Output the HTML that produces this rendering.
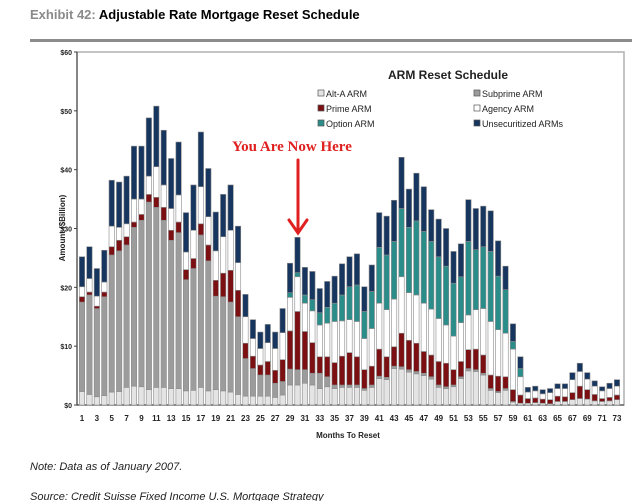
<!DOCTYPE html>
<html><head><meta charset="utf-8"><style>
body{margin:0;background:#fff;font-family:"Liberation Sans",Arial,sans-serif;}
#wrap{position:relative;width:639px;height:501px;overflow:hidden;background:#fff}
</style></head><body>
<div id="wrap">
<div style="position:absolute;left:30px;top:7px;font-size:13px;font-weight:bold;color:#000"><span style="color:#8a8a8a">Exhibit 42:</span> Adjustable Rate Mortgage Reset Schedule</div>
<div style="position:absolute;left:30px;top:39px;width:602px;height:3px;background:#8c8c8c"></div>
<svg id="chart" width="639" height="501" style="position:absolute;left:0;top:0" font-family="Liberation Sans, Arial, sans-serif"></svg>
<div style="position:absolute;left:30px;top:461px;font-size:11px;font-style:italic;color:#222">Note: Data as of January 2007.</div>
<div style="position:absolute;left:30px;top:491px;font-size:11px;font-style:italic;color:#222">Source: Credit Suisse Fixed Income U.S. Mortgage Strategy</div>
</div>
<script>
const months=[];for(let i=1;i<=73;i++)months.push(i);
const altA=[2.3,1.8,1.4,1.6,2.2,2.3,3.0,3.2,3.1,2.6,3,3,2.8,2.8,2.4,2.5,3,2.4,2.6,2.4,2.2,1.8,1.5,1.5,1.5,1.5,1.3,1.7,3.4,3.4,3.7,3.4,2.8,3.1,2.8,3,3,3,2.5,3,4.5,4.3,6.2,6.1,5.6,5.3,5,4.4,3,2.8,3.1,4.5,5.8,5.7,5.1,2.5,2.1,2.5,0.5,0.3,0.3,0.4,0.3,0.2,0.6,0.6,0.9,1.1,1,0.7,0.6,0.7,0.9];
const subprime=[15.2,16.9,15,16.8,23.3,23.9,24.2,27,28.3,31.9,30.6,28.4,25.2,26.5,18.9,20.7,25.9,22.1,15.9,16,15.3,13.2,6.4,4.7,3.6,3.6,2.4,2.3,2.7,2.6,2.3,2,2.6,1.7,0.6,0.4,0.4,0.4,0.3,0.4,0.4,0.4,0.4,0.4,0.4,0.4,0.4,0.4,0.4,0.3,0.3,0.3,0.4,0.3,0.3,0.3,0.2,0.3,0.1,0,0,0,0,0,0,0,0,0,0,0,0,0,0];
const prime=[0.9,0.5,0.4,0.8,1.4,1.8,1.4,0.9,1,1.3,1.7,2.2,1.7,1.8,1.7,1.7,1.9,2.7,2.7,4,5.4,4.5,2.6,2.1,1.7,2.3,2.2,3.7,6.5,9.9,6.5,5.2,2.8,3.4,3.8,4.9,5.5,4.8,3.2,3.2,4.6,3.5,3.3,5.7,5,4.8,3.7,3.7,4,4,2.6,2.6,3.2,3.5,3.1,2.3,2.6,2,2,1.4,0.8,0.8,0.7,0.7,0.9,0.8,1.2,2.1,1.6,1.1,0.5,0.6,0.8];
const agency=[1.7,2.3,1.7,1.7,3.5,2.2,2.2,3.9,2.6,3.1,5.2,3.8,3.7,4.6,3,4.8,6.3,4.8,5,6.2,6.8,4.7,4.5,3,2.8,3.2,3.7,4.6,5.7,5.9,4.8,5.4,5.4,5.7,7,6,5.6,6,5.3,6.4,7.8,8,8.1,9.6,8.1,8.2,8.2,7.8,7.3,6.5,5.7,6.6,5.9,6.7,7.9,9.1,7.9,7.4,6.9,3.1,1.1,1.2,0.9,1.2,1.3,1.4,2.2,2.5,1.8,1.4,1.3,1.5,1.5];
const optionArm=[0,0,0,0,0,0,0,0,0,0,0,0,0,0,0,0,0,0,0,0,0,0,0,0,0,0,0,0,0.8,0.7,1.4,1.9,2.1,2.7,3.1,4.4,5.6,6.2,4.6,6.3,9.5,9.3,9.8,11.6,11.1,12.6,12.2,11.5,10.5,10,9,7.8,12.5,10.2,10.5,11.9,9.1,7.4,1.3,1.4,0,0,0,0,0,0,0,0,0,0,0,0,0];
const unsec=[5.1,5.4,4.7,5.4,7.8,7.7,8.1,9,9,9.9,10.3,9.3,8.5,9,6.7,7.7,9.3,8.2,6.6,7.2,7.7,6.2,3.8,3.2,2.8,3.1,2.8,4.1,5,6,4.7,4.8,4.1,4.4,4.6,5.3,5.1,5.3,4.2,4.5,5.9,6.6,7,8.7,6.5,8.1,7.6,5.4,6.4,6.4,5.4,5.6,7.1,7,6.9,6.9,6,4,3,2,0.8,0.8,0.7,0.7,0.8,0.8,1.2,1.4,1.1,0.9,0.7,0.9,1.1];
const yTicks=[0,10,20,30,40,50,60];
const seriesNames=["Alt-A ARM","Subprime ARM","Prime ARM","Agency ARM","Option ARM","Unsecuritized ARMs"];

const NS="http://www.w3.org/2000/svg";
const svg=document.getElementById('chart');
const X0=77,X1=624,Y0=405,Y1=52;
const step=(617-82)/72;
function x(i){return 82+(i-1)*step;}
function y(v){return Y0-(v/60)*(Y0-Y1);}
function mk(t,a,p){const e=document.createElementNS(NS,t);for(const k in a)e.setAttribute(k,a[k]);(p||svg).appendChild(e);return e;}
const colors=["#e4e4e4","#9c9c9c","#7b0f12","#ffffff","#2b8d8a","#17365f"];
const series=[altA,subprime,prime,agency,optionArm,unsec];
const keys=["alt-a","subprime","prime","agency","option","unsecuritized"];

const fr=mk('rect',{x:X0,y:Y1,width:X1-X0,height:Y0-Y1,fill:'none',stroke:'#b0b0b0','stroke-width':1.5});


yTicks.forEach(t=>{
  const tx=mk('text',{x:X0-5,y:y(t)+3,'text-anchor':'end','font-size':7,'font-weight':'bold',fill:'#222'});
  tx.textContent='$'+t;
  
  
  const tk=mk('line',{x1:X0-3,x2:X0,y1:y(t),y2:y(t),stroke:'#444','stroke-width':1});
  
  
});
const ax=mk('line',{x1:X0,x2:X0,y1:Y1,y2:Y0,stroke:'#333','stroke-width':1});


const axx=mk('line',{x1:X0,x2:X1,y1:Y0,y2:Y0,stroke:'#333','stroke-width':1});



const bw=5.4;
months.forEach((m,i)=>{
  let acc=0;
  series.forEach((s,k)=>{
    const v=s[i];if(!v)return;
    const r=mk('rect',{x:x(m)-bw/2,y:y(acc+v),width:bw,height:y(acc)-y(acc+v),fill:colors[k],stroke:'#8a8a8a','stroke-width':0.6});
    
    
    acc+=v;
  });
  if(m%2===1){
    const t=mk('text',{x:x(m),y:421,'text-anchor':'middle','font-size':8,'font-weight':'bold',fill:'#222'});
    t.textContent=m;
    
    
  }
});
const xt=mk('text',{x:348,y:438,'text-anchor':'middle','font-size':8,'font-weight':'bold',fill:'#222'});
xt.textContent='Months To Reset';


const yt=mk('text',{x:0,y:0,'text-anchor':'middle','font-size':8,'font-weight':'bold',fill:'#222',transform:'translate(65,228) rotate(-90)'});
yt.textContent='Amount ($Billion)';



const lt=mk('text',{x:448,y:79,'text-anchor':'middle','font-size':12,'font-weight':'bold',fill:'#222'});
lt.textContent='ARM Reset Schedule';


const legPos=[[318,97],[474,97],[318,112],[474,112],[318,127],[474,127]];
seriesNames.forEach((n,k)=>{
  const g=mk('g',{});
  
  
  mk('rect',{x:legPos[k][0],y:legPos[k][1]-7,width:6,height:6,fill:colors[k],stroke:'#555','stroke-width':0.7},g);
  const t=mk('text',{x:legPos[k][0]+8,y:legPos[k][1],'font-size':9,fill:'#222'},g);
  t.textContent=n;
});

const an=mk('text',{x:232,y:151,'font-size':15,'font-weight':'bold',fill:'#e02020','font-family':'Liberation Serif, serif'});
an.textContent='You Are Now Here';


const ar=mk('path',{d:'M298 160 L298 232 M289 220 L298 233 L307 220',fill:'none',stroke:'#e02020','stroke-width':3,'stroke-linecap':'round'});


</script>
</body></html>
